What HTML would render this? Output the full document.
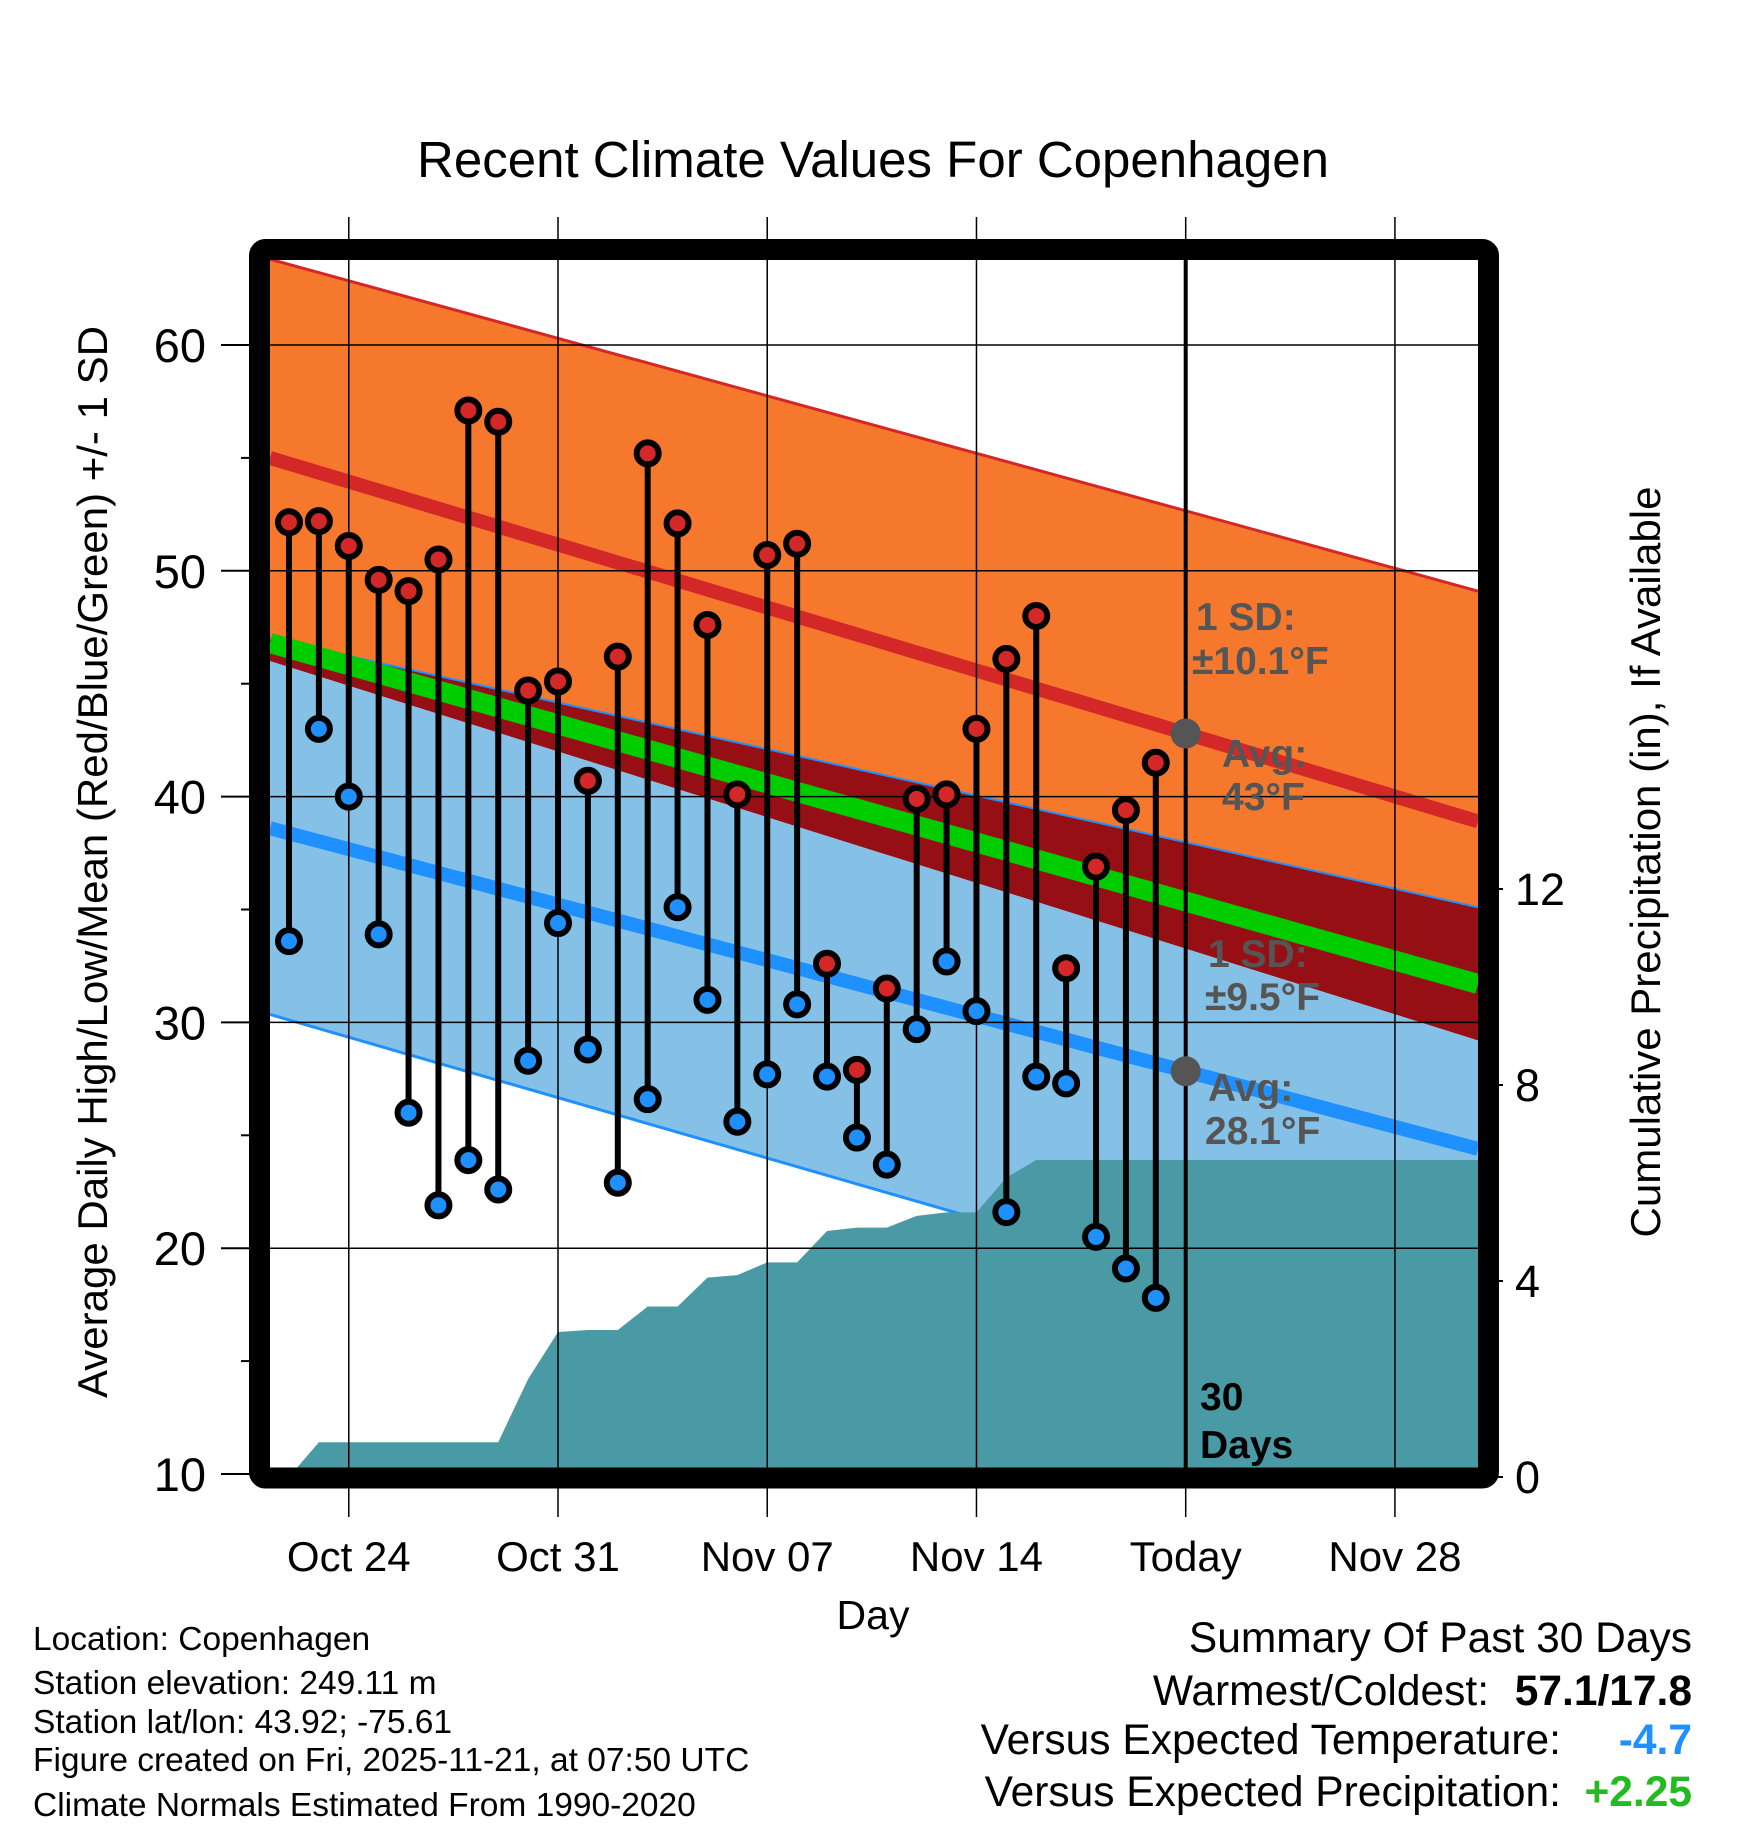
<!DOCTYPE html>
<html><head><meta charset="utf-8"><style>
html,body{margin:0;padding:0;background:#fff;overflow:hidden;}
svg{display:block;font-family:"Liberation Sans",sans-serif;}
</style></head><body>
<svg id="chart" width="1748" height="1828" viewBox="0 0 1748 1828" xmlns="http://www.w3.org/2000/svg">
<defs><clipPath id="plotclip"><rect x="270" y="260" width="1208" height="1208"/></clipPath></defs>
<rect width="1748" height="1828" fill="#fff"/>
<text x="873" y="177" font-size="51" text-anchor="middle">Recent Climate Values For Copenhagen</text>
<g id="fills" clip-path="url(#plotclip)"></g>
<g id="grid"></g>
<g id="marks"></g>
<g id="axes"></g>
<text transform="translate(107,862) rotate(-90)" font-size="42" text-anchor="middle">Average Daily High/Low/Mean (Red/Blue/Green) +/- 1 SD</text>
<text transform="translate(1660,862) rotate(-90)" font-size="42" text-anchor="middle">Cumulative Precipitation (in), If Available</text>
<text x="873" y="1629" font-size="41" text-anchor="middle">Day</text>
<g font-size="33.5">
<text x="33" y="1650">Location: Copenhagen</text>
<text x="33" y="1694">Station elevation: 249.11 m</text>
<text x="33" y="1733">Station lat/lon: 43.92; -75.61</text>
<text x="33" y="1771">Figure created on Fri, 2025-11-21, at 07:50 UTC</text>
<text x="33" y="1816">Climate Normals Estimated From 1990-2020</text>
</g>
<g font-size="42.5">
<text x="1692" y="1652" text-anchor="end">Summary Of Past 30 Days</text>
<text x="1489" y="1705" text-anchor="end">Warmest/Coldest:</text>
<text x="1692" y="1705" text-anchor="end" font-weight="bold">57.1/17.8</text>
<text x="1561" y="1754" text-anchor="end">Versus Expected Temperature:</text>
<text x="1692" y="1754" text-anchor="end" font-weight="bold" fill="#1e90ff">-4.7</text>
<text x="1561" y="1806" text-anchor="end">Versus Expected Precipitation:</text>
<text x="1692" y="1806" text-anchor="end" font-weight="bold" fill="#22bb22">+2.25</text>
</g>
</svg>
<script>
// Data
const highs = [52.15,52.2,51.1,49.6,49.1,50.5,57.1,56.6,44.7,45.1,40.7,46.2,55.2,52.1,47.6,40.1,50.7,51.2,32.6,27.9,31.5,39.9,40.1,43.0,46.1,48.0,32.4,36.9,39.4,41.5];
const lows = [33.6,43.0,40.0,33.9,26.0,21.9,23.9,22.6,28.3,34.4,28.8,22.9,26.6,35.1,31.0,25.6,27.7,30.8,27.6,24.9,23.7,29.7,32.7,30.5,21.6,27.6,27.3,20.5,19.1,17.8];
const precip = [0,0.71,0.71,0.71,0.71,0.71,0.71,0.71,2.0,2.96,3.0,3.0,3.48,3.48,4.07,4.12,4.38,4.38,5.02,5.09,5.09,5.33,5.4,5.4,6.11,6.47,6.47,6.47,6.47,6.47];
// normals at left edge / right edge of the plot
const normUpper = [63.8,49.1];
const normAvgHigh = [55.0,38.9];
const normLowPlusSD = [47.0,35.1];
const normMean = [46.8,31.7];
const normHighMinusSD = [46.0,29.2];
const normAvgLow = [38.6,24.4];
const normLowMinusSD = [30.35,14.9];
const yTicks = [10,20,30,40,50,60];
const y2Ticks = [0,4,8,12];
const xTickLabels = ["Oct 24","Oct 31","Nov 07","Nov 14","Today","Nov 28"];
const xTickDays = [2,9,16,23,30,37];
const todayDay = 30;

const NS="http://www.w3.org/2000/svg";
const X0=270,X1=1478,Y0=260,Y1=1468;
const dayX=d=>289+29.89*d;            // day 0 = Oct 22
const dL=(X0-289)/29.89, dR=(X1-289)/29.89;
const yT=v=>1474-(v-10)*22.58;
const yP=v=>1477-v*49.0;
const norm=(a,d)=>a[0]+(a[1]-a[0])*(d-dL)/(dR-dL);
function mk(tag,attrs,parent){const e=document.createElementNS(NS,tag);for(const k in attrs)e.setAttribute(k,attrs[k]);parent.appendChild(e);return e;}
const fills=document.getElementById('fills'),grid=document.getElementById('grid'),marks=document.getElementById('marks'),axes=document.getElementById('axes');
function band(top,bot,fill,name){
  const p=[[dL,norm(top,dL)],[dR,norm(top,dR)],[dR,norm(bot,dR)],[dL,norm(bot,dL)]].map(q=>dayX(q[0])+','+yT(q[1])).join(' ');
  const e=mk('polygon',{points:p,fill:fill},fills);
  
  
}
function nline(a,color,w,name){
  const e=mk('line',{x1:dayX(dL),y1:yT(norm(a,dL)),x2:dayX(dR),y2:yT(norm(a,dR)),stroke:color,'stroke-width':w},fills);
  
  
}
band(normUpper,normLowPlusSD,'#f5782d','high-sd-band');
band(normLowPlusSD,normHighMinusSD,'#960f14','overlap-band');
band(normHighMinusSD,normLowMinusSD,'#85c1e6','low-sd-band');
nline(normLowMinusSD,'#1e90ff',3,'lower-sd-line');
// precip area
let pts=[];
precip.forEach((v,i)=>pts.push(dayX(i)+','+yP(v)));
pts.push(X1+','+yP(precip[precip.length-1]));
pts.push(X1+','+(Y1+10));pts.push(dayX(0)+','+(Y1+10));
const pa=mk('polygon',{points:pts.join(' '),fill:'#4a9aa5'},fills);


nline(normUpper,'#d42828',3,'upper-sd-line');
nline(normLowPlusSD,'#1e90ff',2,'low-plus-sd-line');
nline(normAvgHigh,'#d42828',14,'avg-high-line');
nline(normMean,'#00cc00',20,'avg-mean-line');
nline(normAvgLow,'#1e90ff',14,'avg-low-line');
// grid
yTicks.forEach(v=>{
  if(v>10){const g=mk('line',{x1:X0,x2:X1,y1:yT(v),y2:yT(v),stroke:'#000','stroke-width':1.5},grid);
  
  }
  const t=mk('line',{x1:221,x2:252,y1:yT(v),y2:yT(v),stroke:'#000','stroke-width':2},axes);
  
  
  const l=mk('text',{x:206,y:yT(v)+17,'font-size':47,'text-anchor':'end'},axes);l.textContent=v;
  
  
  if(v<60){const m=mk('line',{x1:241,x2:252,y1:yT(v+5),y2:yT(v+5),stroke:'#000','stroke-width':2},axes);
  
  }
});
y2Ticks.forEach(v=>{
  const t=mk('line',{x1:1478,x2:1503,y1:yP(v),y2:yP(v),stroke:'#000','stroke-width':2},axes);
  
  
  const l=mk('text',{x:1515,y:yP(v)+16,'font-size':45},axes);l.textContent=v;
  
  
});
xTickDays.forEach((d,i)=>{
  const x=dayX(d);
  const g=mk('line',{x1:x,x2:x,y1:217,y2:1517,stroke:'#000','stroke-width':1.5},grid);
  
  
  const l=mk('text',{x:x,y:1571,'font-size':42,'text-anchor':'middle'},axes);l.textContent=xTickLabels[i];
  
  
});
// today line
const tx=dayX(todayDay);
const tl=mk('line',{x1:tx,x2:tx,y1:Y0,y2:Y1,stroke:'#000','stroke-width':4},marks);


// daily stems and markers
highs.forEach((h,i)=>{
  const x=dayX(i);
  const s=mk('line',{x1:x,x2:x,y1:yT(h),y2:yT(lows[i]),stroke:'#000','stroke-width':6},marks);
  
  
});
highs.forEach((h,i)=>{
  const x=dayX(i);
  const a=mk('circle',{cx:x,cy:yT(h),r:11,fill:'#d42828',stroke:'#000','stroke-width':6},marks);
  
  
  const b=mk('circle',{cx:x,cy:yT(lows[i]),r:11,fill:'#1e90ff',stroke:'#000','stroke-width':6},marks);
  
  
});
// today normal markers
[[normAvgHigh,'today-avg-high-dot'],[normAvgLow,'today-avg-low-dot']].forEach(q=>{
  const c=mk('circle',{cx:tx,cy:yT(norm(q[0],todayDay)),r:15,fill:'#555'},marks);
  
  
});
// annotations
const ann=[["1 SD:",1196,630,'#555'],["\u00b110.1\u00b0F",1192,674,'#555'],["Avg:",1222,767,'#555'],["43\u00b0F",1222,810,'#555'],
["1 SD:",1208,967,'#555'],["\u00b19.5\u00b0F",1205,1010,'#555'],["Avg:",1208,1101,'#555'],["28.1\u00b0F",1205,1144,'#555'],
["30",1200,1410,'#000'],["Days",1200,1458,'#000']];
ann.forEach(a=>{
  const t=mk('text',{x:a[1],y:a[2],'font-size':39,'font-weight':'bold',fill:a[3]},marks);t.textContent=a[0];
  
  
});
// frame
const fr=mk('rect',{x:259.5,y:249.5,width:1229,height:1228.5,fill:'none',stroke:'#000','stroke-width':21,rx:6},axes);


</script>
</body></html>
